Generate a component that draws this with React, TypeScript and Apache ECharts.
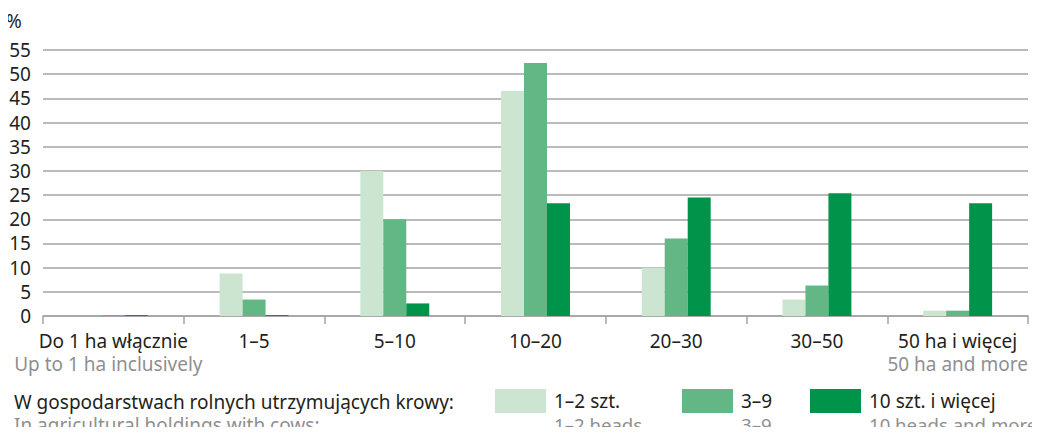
import React, { useEffect, useRef } from "react";
import * as echarts from "echarts";

const categories = ["Do 1 ha włącznie", "1–5", "5–10", "10–20", "20–30", "30–50", "50 ha i więcej"];
const categoriesEn = ["Up to 1 ha inclusively", "", "", "", "", "", "50 ha and more"];
const seriesNames = ["1–2 szt.", "3–9", "10 szt. i więcej"];
const seriesNamesEn = ["1–2 heads", "3–9", "10 heads and more"];
const values12 = [0, 8.8, 30.0, 46.5, 10.0, 3.4, 1.1];
const values39 = [0.2, 3.4, 20.0, 52.3, 16.0, 6.3, 1.1];
const values10 = [0.2, 0.2, 2.6, 23.3, 24.5, 25.4, 23.3];
const yTicks = { min: 0, max: 55, interval: 5 };

const FONT = "Noto Sans";
const FS = 19;
const BLACK = "#231f20";
const GRAY = "#8f8f8f";
const COLORS = ["#cbe5d0", "#63b784", "#00934a"];
const GRID = "#a3a3a3";

export default function App() {
  const ref = useRef<HTMLDivElement>(null);
  useEffect(() => {
    if (!ref.current) return;
    const chart = echarts.init(ref.current, null, { renderer: "svg" });
    const legendLefts = [495, 682, 810];
    const data = [values12, values39, values10];
    const txt = (text: string, x: number, y: number, fill: string, size = FS) => ({
      type: "text",
      x,
      y,
      style: { text, fontFamily: FONT, fontSize: size, fill, align: "left", verticalAlign: "middle" },
    });
    chart.setOption({
      animation: false,
      textStyle: { fontFamily: FONT },
      grid: { left: 43, right: 12, top: 50, bottom: 119 },
      legend: seriesNames.map((n, i) => ({
        data: [n],
        left: legendLefts[i],
        top: 389,
        padding: 0,
        itemWidth: 51,
        itemHeight: 24,
        icon: "rect",
        selectedMode: false,
        textStyle: { fontFamily: FONT, fontSize: FS, lineHeight: 20, color: BLACK, padding: [0, 0, 0, 3] },
      })),
      xAxis: {
        type: "category",
        data: categories,
        axisLine: { lineStyle: { color: GRID, width: 1.5 } },
        axisTick: { show: true, length: 8, lineStyle: { color: GRID, width: 1.5 } },
        axisLabel: {
          interval: 0,
          margin: 14,
          formatter: (v: string, idx: number) =>
            categoriesEn[idx] ? `{a|${v}}\n{${idx === 0 ? "c" : "b"}|${categoriesEn[idx]}}` : `{a|${v}}`,
          rich: {
            a: { fontFamily: FONT, fontSize: FS, color: BLACK, lineHeight: 22.6 },
            b: { fontFamily: FONT, fontSize: FS, color: GRAY, lineHeight: 22.6 },
            c: { fontFamily: FONT, fontSize: FS, color: GRAY, lineHeight: 22.6, padding: [0, 10, 0, 0] },
          },
        },
      },
      yAxis: {
        type: "value",
        min: yTicks.min,
        max: yTicks.max,
        interval: yTicks.interval,
        axisLine: { show: false },
        axisTick: { show: false },
        axisLabel: { fontFamily: FONT, fontSize: FS, color: BLACK, margin: 12 },
        splitLine: { lineStyle: { color: GRID, width: 1.5 } },
      },
      series: seriesNames.map((n, i) => ({
        name: n,
        type: "bar",
        data: data[i],
        barGap: "0%",
        barCategoryGap: "51%",
        itemStyle: { color: COLORS[i] },
      })),
      graphic: [
        txt("%", 6, 21, BLACK),
        txt("W gospodarstwach rolnych utrzymujących krowy:", 14, 401.5, BLACK),
        txt("In agricultural holdings with cows:", 14, 424.5, GRAY),
        ...seriesNamesEn.map((t, i) => txt(t, legendLefts[i] + 59, 424.5, GRAY, 18.6)),
      ],
    });
    return () => chart.dispose();
  }, []);
  return <div ref={ref} style={{ width: 1040, height: 435, margin: -8 }} />;
}
